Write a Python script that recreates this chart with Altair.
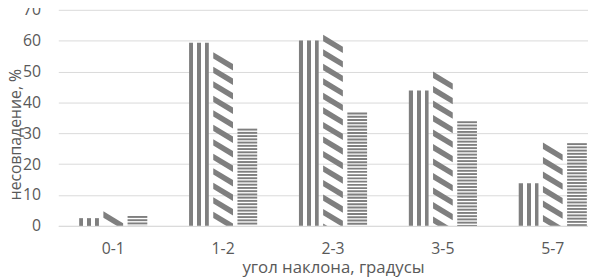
import altair as alt
import pandas as pd

categories = ["0-1", "1-2", "2-3", "3-5", "5-7"]
series = ["A", "B", "C"]
vals_a = [2.5, 59.3, 60.1, 43.9, 13.8]   # vertical stripes
vals_b = [4.7, 56.3, 61.9, 50.0, 27.0]   # diagonal stripes
vals_c = [3.2, 31.5, 36.7, 33.9, 26.8]   # horizontal stripes
y_ticks = [0, 10, 20, 30, 40, 50, 60, 70]
x_title = "угол наклона, градусы"
y_title = "несовпадение, %"

GRAY = "#7f7f7f"
TXT = "#595959"
FONT = "Open Sans"

bars_a = pd.DataFrame({"cat": categories, "s": "A", "v": vals_a})

# horizontal stripe pattern for series C
rows = []
for c, v in zip(categories, vals_c):
    top = v
    while top > 0:
        rows.append({"cat": c, "s": "C", "y": max(top - 0.62, 0), "y2": top})
        top -= 1.05
stripes_c = pd.DataFrame(rows)

# diagonal stripe pattern for series B
rows = []
for c, v in zip(categories, vals_b):
    ctr = v - 2.96
    while ctr > -3:
        rows.append({"cat": c, "s": "B", "y": ctr})
        ctr -= 4.7
diag_b = pd.DataFrame(rows)

xscale = alt.Scale(domain=categories, range=[0, 557], paddingInner=0.38, paddingOuter=0.19)
xenc = alt.X("cat:N", sort=categories, scale=xscale,
             axis=alt.Axis(title=x_title, labelAngle=0, ticks=False, tickSize=0,
                           domain=True, domainColor="#d9d9d9", labelPadding=15,
                           labelFontSize=16, labelColor=TXT, labelFont=FONT,
                           titleFontSize=17, titleFont=FONT, titleColor=TXT,
                           titleFontWeight="normal", titlePadding=3))
xoff = alt.XOffset("s:N", scale=alt.Scale(domain=series, paddingInner=0.184, paddingOuter=0))
yscale = alt.Scale(domain=[0, 70])
yaxis = alt.Axis(title=y_title, values=y_ticks, grid=True, gridColor="#d9d9d9",
                 domain=False, ticks=False, tickSize=0, labelPadding=18,
                 labelFontSize=16, labelColor=TXT, labelFont=FONT,
                 titleFontSize=16, titleFont=FONT, titleColor=TXT,
                 titleFontWeight="normal", titleX=-51, titleY=126,
                 titleAngle=270, titleAlign="center", titleBaseline="top")

grad = alt.LinearGradient(
    gradient="linear", x1=0, x2=1, y1=0, y2=0,
    stops=[
        alt.GradientStop(offset=0.0, color=GRAY), alt.GradientStop(offset=0.2, color=GRAY),
        alt.GradientStop(offset=0.2, color="white"), alt.GradientStop(offset=0.4, color="white"),
        alt.GradientStop(offset=0.4, color=GRAY), alt.GradientStop(offset=0.6, color=GRAY),
        alt.GradientStop(offset=0.6, color="white"), alt.GradientStop(offset=0.8, color="white"),
        alt.GradientStop(offset=0.8, color=GRAY), alt.GradientStop(offset=1.0, color=GRAY),
    ])

layer_a = alt.Chart(bars_a).mark_bar(color=grad).encode(
    x=xenc, xOffset=xoff, y=alt.Y("v:Q", scale=yscale, axis=yaxis))

layer_c = alt.Chart(stripes_c).mark_bar(color=GRAY).encode(
    x=xenc, xOffset=xoff, y=alt.Y("y:Q", scale=yscale, axis=yaxis), y2="y2:Q")

diag_path = "M-1,-0.925L1,0.275L1,0.925L-1,-0.275Z"
layer_b = alt.Chart(diag_b).mark_point(shape=diag_path, size=400, filled=True,
                                       color=GRAY, opacity=1, strokeWidth=0, clip=True).encode(
    x=xenc, xOffset=xoff, y=alt.Y("y:Q", scale=yscale, axis=yaxis))

chart = alt.layer(layer_a, layer_c, layer_b).properties(
    width=537, height=219,
    autosize=alt.AutoSizeParams(type="none"),
    padding={"left": 51, "top": 0, "right": 0, "bottom": 52},
).configure_view(stroke=None)

chart.save("out.html", embed_options={"renderer": "svg", "actions": False})
